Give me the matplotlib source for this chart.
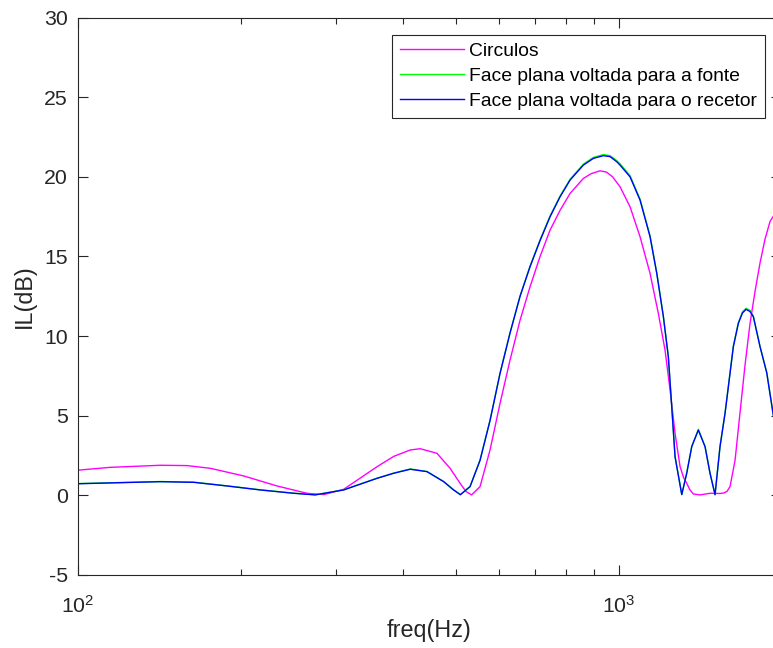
import matplotlib.pyplot as plt
from matplotlib.ticker import MultipleLocator

plt.rcParams['font.family'] = ['Liberation Sans', 'DejaVu Sans']
plt.rcParams['mathtext.fontset'] = 'custom'
plt.rcParams['mathtext.rm'] = 'Liberation Sans'
plt.rcParams['mathtext.it'] = 'Liberation Sans'
plt.rcParams['axes.unicode_minus'] = False

# Circulos
freq_circ = [100, 114.8, 142.1, 159.2, 175.8, 202.7, 233.6, 265.5, 285.0, 310.2,
             357.6, 384.0, 411.9, 429.8, 461.6, 488.1, 509.3, 522.0, 534.8, 554.5,
             578.6, 603.8, 630.1, 657.5, 686.1, 716.0, 747.2, 779.7, 813.6, 861.0,
             890.0, 924.5, 950.0, 975.0, 1006.5, 1050.3, 1096.0, 1143.7, 1184.7, 1219.0,
             1245.4, 1272.1, 1299.7, 1320.0, 1337.0, 1355.0, 1375.0, 1414.9, 1476.4, 1540.6,
             1565.0, 1587.1, 1607.7, 1642.5, 1677.7, 1714.0, 1750.7, 1788.2, 1826.9, 1866.4,
             1906.4, 1930.7, 2000]
il_circ = [1.58, 1.76, 1.89, 1.87, 1.70, 1.22, 0.59, 0.13, 0.05, 0.38,
           1.80, 2.45, 2.85, 2.93, 2.64, 1.70, 0.76, 0.25, 0.03, 0.55,
           2.85, 5.78, 8.50, 11.0, 13.1, 15.0, 16.66, 17.9, 18.96, 19.9,
           20.2, 20.38, 20.3, 20.0, 19.38, 18.12, 16.24, 13.94, 11.43, 9.13,
           6.62, 3.9, 1.8, 1.1, 0.76, 0.35, 0.09, 0.03, 0.13, 0.12,
           0.15, 0.25, 0.55, 2.2, 5.2, 8.2, 10.8, 12.8, 14.6, 16.1,
           17.2, 17.5, 18.0]

# Face plana (fonte / recetor)
freq_face = [100, 142.1, 163.8, 188.7, 217.5, 250.8, 274.9, 310.2, 357.6, 384.0,
             411.9, 442.3, 475.0, 495.0, 509.9, 531.4, 554.5, 578.6, 603.8, 630.1,
             657.5, 686.1, 716.0, 747.2, 779.7, 813.6, 861.0, 898.5, 937.6, 964.7,
             992.4, 1006.5, 1050.3, 1096.0, 1143.7, 1176.8, 1210.4, 1236.3, 1254.3, 1272.1,
             1309.0, 1337.0, 1365.9, 1404.8, 1445.4, 1476.4, 1508.3, 1540.6, 1574.0, 1607.7,
             1630.5, 1665.8, 1695.0, 1721.1, 1750.0, 1775.5, 1826.9, 1879.8, 1930.7, 2000]
il_recetor = [0.73, 0.86, 0.82, 0.59, 0.34, 0.13, 0.03, 0.34, 1.07, 1.39,
              1.64, 1.49, 0.86, 0.35, 0.04, 0.55, 2.2, 4.7, 7.66, 10.2,
              12.5, 14.36, 16.0, 17.5, 18.75, 19.8, 20.74, 21.16, 21.33, 21.27,
              20.95, 20.74, 20.0, 18.54, 16.24, 13.94, 11.22, 8.7, 5.57, 2.43,
              0.05, 1.39, 3.06, 4.1, 3.06, 1.39, 0.04, 3.06, 5.15, 7.66,
              9.33, 10.8, 11.45, 11.68, 11.55, 11.22, 9.33, 7.7, 5.15, 2.0]
il_fonte = [0.74, 0.87, 0.83, 0.60, 0.35, 0.14, 0.04, 0.35, 1.08, 1.40,
            1.66, 1.50, 0.87, 0.36, 0.05, 0.56, 2.22, 4.72, 7.68, 10.22,
            12.52, 14.4, 16.05, 17.55, 18.8, 19.85, 20.8, 21.22, 21.4, 21.33,
            21.02, 20.82, 20.08, 18.6, 16.3, 13.98, 11.25, 8.72, 5.58, 2.44,
            0.05, 1.40, 3.08, 4.15, 3.08, 1.40, 0.05, 3.08, 5.18, 7.7,
            9.38, 10.86, 11.52, 11.75, 11.62, 11.26, 9.36, 7.72, 5.16, 2.0]


def main():
    fig = plt.figure(figsize=(7.73, 6.48), dpi=100)
    ax = fig.add_axes([77.8 / 773, 73 / 648, 703.5 / 773, 557.4 / 648])

    ax.plot(freq_circ, il_circ, color='#ff00ff', lw=1.0, label='Circulos')
    ax.plot(freq_face, il_fonte, color='#00ff00', lw=1.0, label='Face plana voltada para a fonte')
    ax.plot(freq_face, il_recetor, color='#0000ff', lw=1.0, label='Face plana voltada para o recetor')

    ax.set_xscale('log')
    ax.set_xlim(100, 2000)
    ax.set_ylim(-5, 30)
    ax.yaxis.set_major_locator(MultipleLocator(5))

    for side in ax.spines.values():
        side.set_color('#262626')
        side.set_linewidth(0.8)
    ax.tick_params(which='both', direction='in', top=True, right=True,
                   colors='#262626', labelsize=15.3, width=0.8)
    ax.tick_params(which='major', length=7, pad=7)
    ax.tick_params(which='minor', length=4)
    ax.tick_params(axis='x', which='major', pad=14)

    ax.set_xlabel('freq(Hz)', fontsize=16.8, color='#262626', labelpad=2)
    ax.set_ylabel('IL(dB)', fontsize=16.8, color='#262626', labelpad=6)

    leg = ax.legend(loc='upper right', bbox_to_anchor=(765 / 773, 1 - 34.5 / 648),
                    bbox_transform=fig.transFigure, borderaxespad=0,
                    fontsize=13.9, handlelength=3.3, handletextpad=0.3,
                    borderpad=0.4, labelspacing=0.4, fancybox=False, framealpha=1)
    leg.get_frame().set_edgecolor('#262626')
    leg.get_frame().set_linewidth(0.8)

    fig.savefig('out.png', dpi=100)


if __name__ == "__main__":
    main()
